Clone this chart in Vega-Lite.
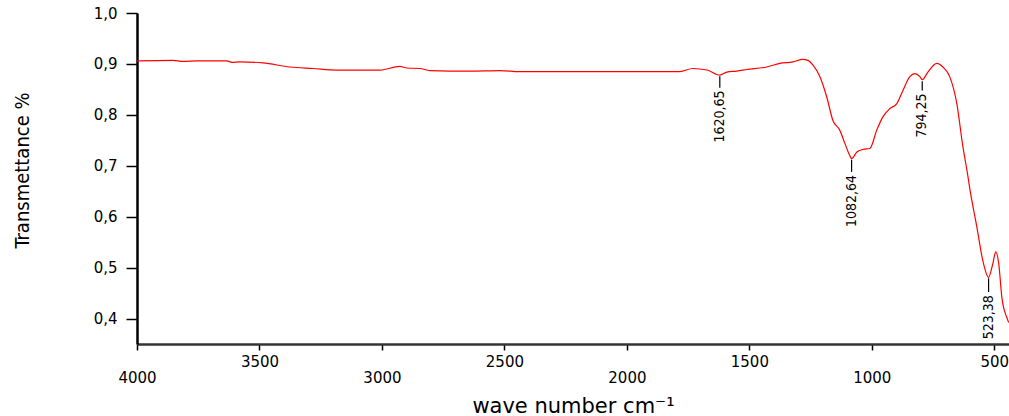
{
  "$schema": "https://vega.github.io/schema/vega-lite/v6.json",
  "width": 872,
  "height": 331,
  "autosize": "none",
  "padding": {"left": 137, "top": 13, "right": 0, "bottom": 72},
  "background": "white",
  "config": {"view": {"stroke": null}},
  "datasets": {
    "spectrum": [
      {"wn": 4000, "t": 0.906}, {"wn": 3853, "t": 0.907}, {"wn": 3812, "t": 0.905}, {"wn": 3755, "t": 0.906},
      {"wn": 3633, "t": 0.906}, {"wn": 3612, "t": 0.903}, {"wn": 3580, "t": 0.904}, {"wn": 3486, "t": 0.902},
      {"wn": 3376, "t": 0.894}, {"wn": 3282, "t": 0.891}, {"wn": 3184, "t": 0.888}, {"wn": 3008, "t": 0.888},
      {"wn": 2927, "t": 0.895}, {"wn": 2898, "t": 0.892}, {"wn": 2845, "t": 0.891}, {"wn": 2804, "t": 0.887},
      {"wn": 2641, "t": 0.886}, {"wn": 2518, "t": 0.887}, {"wn": 2437, "t": 0.885}, {"wn": 2200, "t": 0.885},
      {"wn": 2000, "t": 0.885}, {"wn": 1784, "t": 0.885}, {"wn": 1731, "t": 0.891}, {"wn": 1673, "t": 0.888},
      {"wn": 1620.65, "t": 0.878}, {"wn": 1592, "t": 0.884}, {"wn": 1551, "t": 0.886}, {"wn": 1510, "t": 0.889},
      {"wn": 1429, "t": 0.894}, {"wn": 1376, "t": 0.901}, {"wn": 1322, "t": 0.904}, {"wn": 1282, "t": 0.909},
      {"wn": 1261, "t": 0.907}, {"wn": 1241, "t": 0.898}, {"wn": 1212, "t": 0.875}, {"wn": 1184, "t": 0.835},
      {"wn": 1159, "t": 0.789}, {"wn": 1131, "t": 0.770}, {"wn": 1110, "t": 0.744}, {"wn": 1090, "t": 0.720},
      {"wn": 1082.64, "t": 0.714}, {"wn": 1061, "t": 0.727}, {"wn": 1037, "t": 0.732}, {"wn": 1008, "t": 0.734},
      {"wn": 980, "t": 0.770}, {"wn": 955, "t": 0.796}, {"wn": 927, "t": 0.812}, {"wn": 898, "t": 0.822},
      {"wn": 873, "t": 0.848}, {"wn": 845, "t": 0.875}, {"wn": 824, "t": 0.881}, {"wn": 804, "t": 0.875},
      {"wn": 794.25, "t": 0.869}, {"wn": 771, "t": 0.884}, {"wn": 735, "t": 0.901}, {"wn": 710, "t": 0.894},
      {"wn": 682, "t": 0.875}, {"wn": 653, "t": 0.822}, {"wn": 629, "t": 0.740}, {"wn": 608, "t": 0.680},
      {"wn": 600, "t": 0.655}, {"wn": 571, "t": 0.579}, {"wn": 547, "t": 0.514}, {"wn": 523.38, "t": 0.481},
      {"wn": 506, "t": 0.508}, {"wn": 494, "t": 0.531}, {"wn": 482, "t": 0.508}, {"wn": 469, "t": 0.441},
      {"wn": 449, "t": 0.402}, {"wn": 441, "t": 0.392}
    ],
    "peaks": [
      {"wn": 1620.65, "label": "1620,65", "top": 0.876, "bot": 0.853, "ty": 0.848},
      {"wn": 1082.64, "label": "1082,64", "top": 0.712, "bot": 0.688, "ty": 0.682},
      {"wn": 794.25, "label": "794,25", "top": 0.866, "bot": 0.848, "ty": 0.842},
      {"wn": 523.38, "label": "523,38", "top": 0.479, "bot": 0.452, "ty": 0.446}
    ]
  },
  "layer": [
    {
      "data": {"name": "spectrum"},
      "mark": {"type": "line", "color": "#ff0000", "strokeWidth": 1.2, "interpolate": "monotone", "clip": true},
      "encoding": {
        "x": {
          "field": "wn", "type": "quantitative",
          "scale": {"domain": [440, 4000], "reverse": true, "nice": false, "zero": false},
          "axis": {
            "values": [500, 1000, 1500, 2000, 2500, 3000, 3500, 4000],
            "format": "d",
            "labelExpr": "datum.value % 1000 == 0 ? ['', datum.label] : datum.label",
            "labelLineHeight": 16,
            "labelFont": "DejaVu Sans", "labelFontSize": 15, "labelColor": "#000",
            "labelPadding": 4, "labelBaseline": "top", "labelFlush": false, "labelOverlap": false,
            "tickSize": 6, "tickColor": "#000", "tickWidth": 1.5,
            "domainColor": "#333", "domainWidth": 2.5,
            "grid": false,
            "title": "wave number cm⁻¹",
            "titleFont": "DejaVu Sans", "titleFontSize": 21, "titleFontWeight": "normal", "titleColor": "#000",
            "titleY": 68, "titleBaseline": "alphabetic"
          }
        },
        "y": {
          "field": "t", "type": "quantitative",
          "scale": {"domain": [0.35, 1.0], "nice": false, "zero": false},
          "axis": {
            "values": [0.4, 0.5, 0.6, 0.7, 0.8, 0.9, 1.0],
            "labelExpr": "replace(format(datum.value, '.1f'), '.', ',')",
            "labelFont": "DejaVu Sans", "labelFontSize": 15, "labelColor": "#000",
            "labelPadding": 9,
            "tickSize": 11, "tickColor": "#000", "tickWidth": 1.5,
            "domainColor": "#000", "domainWidth": 2.5,
            "grid": false,
            "title": "Transmettance %",
            "titleFont": "DejaVu Sans Condensed", "titleFontSize": 20, "titleFontWeight": "normal", "titleColor": "#000",
            "titleX": -115, "titleY": 157, "titleAngle": 270, "titleBaseline": "middle", "titleAlign": "center"
          }
        }
      }
    },
    {
      "mark": {"type": "rule", "color": "#000", "strokeWidth": 1.5},
      "encoding": {"y": {"datum": 1.0}}
    },
    {
      "data": {"name": "peaks"},
      "mark": {"type": "rule", "color": "#000", "strokeWidth": 1.2},
      "encoding": {
        "x": {"field": "wn", "type": "quantitative"},
        "y": {"field": "top", "type": "quantitative"},
        "y2": {"field": "bot"}
      }
    },
    {
      "data": {"name": "peaks"},
      "mark": {"type": "text", "angle": 270, "align": "right", "baseline": "middle", "font": "DejaVu Sans Condensed", "fontSize": 14, "color": "#000"},
      "encoding": {
        "x": {"field": "wn", "type": "quantitative"},
        "y": {"field": "ty", "type": "quantitative"},
        "text": {"field": "label"}
      }
    }
  ]
}
